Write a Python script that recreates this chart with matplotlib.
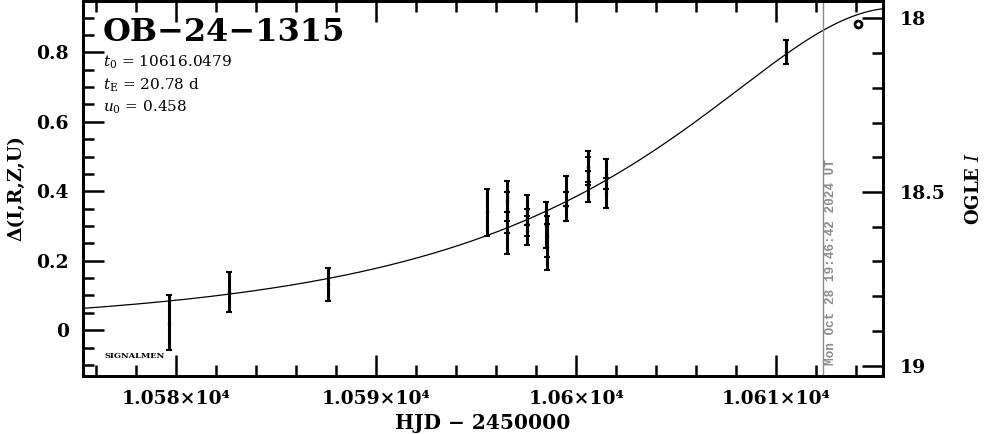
import numpy as np
import matplotlib
matplotlib.use("Agg")
import matplotlib.pyplot as plt
from matplotlib.ticker import MultipleLocator, FixedLocator, FixedFormatter

plt.rcParams['font.family'] = ['DejaVu Serif']
plt.rcParams['mathtext.fontset'] = 'dejavuserif'

# event / model parameters (as printed on the chart)
event = "OB\u221224\u22121315"
t0 = 10616.0479
tE = 20.78
u0 = 0.458
I_base = 18.898

# photometry: HJD-2450000, delta mag, error
hjd = [10579.63, 10582.62, 10587.57, 10595.53,
       10596.53, 10596.53, 10596.53,
       10597.57, 10597.57, 10597.57,
       10598.52, 10598.55, 10598.53,
       10599.50, 10599.50,
       10600.58, 10600.58, 10600.58,
       10601.52, 10601.52,
       10610.50]
dmag = [0.021, 0.110, 0.132, 0.340,
        0.371, 0.339, 0.280,
        0.345, 0.310, 0.287,
        0.302, 0.270, 0.239,
        0.402, 0.356,
        0.471, 0.458, 0.414,
        0.450, 0.394,
        0.802]
derr = [0.079, 0.058, 0.048, 0.068,
        0.058, 0.060, 0.061,
        0.043, 0.040, 0.043,
        0.066, 0.060, 0.067,
        0.043, 0.042,
        0.044, 0.040, 0.045,
        0.043, 0.043,
        0.034]

# latest point (open circle) and time stamp line
hjd_last = 10614.08
dmag_last = 0.882
hjd_now = 10612.33
stamp = "Mon Oct 28 19:46:42 2024 UT"

xticks = [10580, 10590, 10600, 10610]
xticklabels = ["1.058\u00d710\u2074", "1.059\u00d710\u2074", "1.06\u00d710\u2074", "1.061\u00d710\u2074"]

fig = plt.figure(figsize=(9.86, 4.34), dpi=100)
ax = fig.add_axes([0.0839, 0.1336, 0.8113, 0.8641])

xlim = (10575.33, 10615.33)
ylim = (-0.132, 0.948)

# Paczynski curve from the fitted parameters
t = np.linspace(xlim[0], xlim[1], 600)
u = np.sqrt(u0**2 + ((t - t0) / tE)**2)
A = (u**2 + 2) / (u * np.sqrt(u**2 + 4))
ax.plot(t, 2.5 * np.log10(A), color='k', lw=0.9)

ax.errorbar(hjd, dmag, yerr=derr, fmt='.', color='k', ms=3,
            elinewidth=2.2, capsize=2, capthick=1.5)
ax.plot(hjd_last, dmag_last, 'o', mfc='white', mec='k', ms=5, mew=2)

ax.axvline(hjd_now, color='#8c8c8c', lw=1)
ax.text(hjd_now + 0.42, -0.1006, stamp, rotation=90, ha='center', va='bottom',
        color='#8c8c8c', fontsize=9.2, fontweight='bold', family='Liberation Mono')

ax.set_xlim(xlim)
ax.set_ylim(ylim)

ax.xaxis.set_major_locator(FixedLocator(xticks))
ax.xaxis.set_major_formatter(FixedFormatter(xticklabels))
ax.xaxis.set_minor_locator(MultipleLocator(2))
ax.yaxis.set_major_locator(MultipleLocator(0.2))
ax.yaxis.set_minor_locator(MultipleLocator(0.05))
ax.yaxis.set_major_formatter(plt.FuncFormatter(lambda v, p: "0" if abs(v) < 1e-9 else "%.1f" % v))

ax.tick_params(which='both', direction='in', top=True, right=False, width=1.8)
ax.tick_params(which='major', length=15, labelsize=13.5, pad=10)
ax.tick_params(which='minor', length=8)
for lab in ax.get_xticklabels() + ax.get_yticklabels():
    lab.set_fontweight('bold')
for s in ax.spines.values():
    s.set_linewidth(2)

ax.set_xlabel("HJD \u2212 2450000", fontsize=14.5, fontweight='bold', labelpad=4)
ax.set_ylabel("\u0394(I,R,Z,U)", fontsize=13.5, fontweight='bold', labelpad=8)

# right magnitude axis
ax2 = ax.twinx()
ax2.set_ylim(I_base - ylim[0], I_base - ylim[1])
ax2.yaxis.set_major_locator(FixedLocator([18, 18.5, 19]))
ax2.yaxis.set_major_formatter(FixedFormatter(["18", "18.5", "19"]))
ax2.yaxis.set_minor_locator(MultipleLocator(0.1))
ax2.tick_params(which='both', direction='in', width=1.8)
ax2.tick_params(which='major', length=15, labelsize=13.5, pad=12)
ax2.tick_params(which='minor', length=8)
for lab in ax2.get_yticklabels():
    lab.set_fontweight('bold')
for s in ax2.spines.values():
    s.set_linewidth(2)
ax2.set_ylabel("OGLE $\\mathit{I}$", fontsize=13, fontweight='bold', labelpad=14)

ax.text(0.025, 0.915, event, transform=ax.transAxes, fontsize=23,
        fontweight='bold', va='center', ha='left')
ax.text(0.025, 0.837, "$t_0$ = 10616.0479", transform=ax.transAxes, fontsize=11, va='center')
ax.text(0.025, 0.776, "$t_{\\rm E}$ = 20.78 d", transform=ax.transAxes, fontsize=11, va='center')
ax.text(0.025, 0.717, "$u_0$ = 0.458", transform=ax.transAxes, fontsize=11, va='center')
ax.text(0.0266, -0.075, "SIGNALMEN", transform=ax.get_yaxis_transform(), fontsize=6,
        fontweight='bold', va='center', ha='left')

fig.savefig("out.png", dpi=100)
